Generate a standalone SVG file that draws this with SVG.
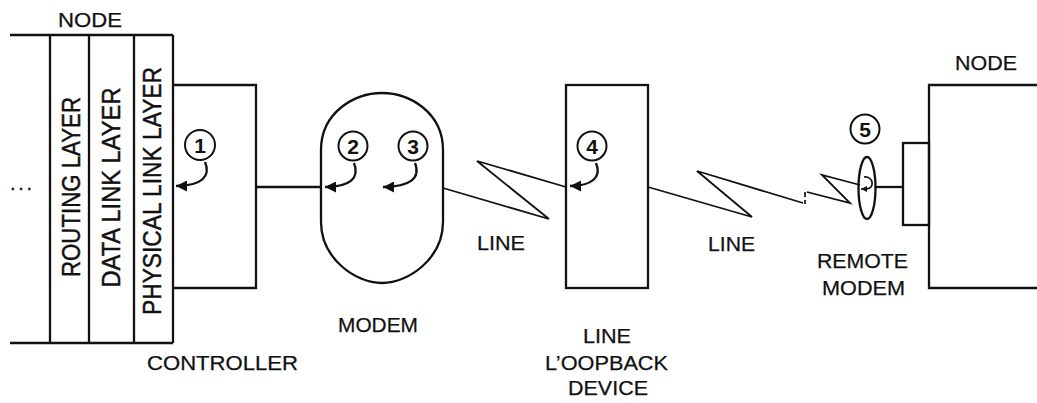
<svg xmlns="http://www.w3.org/2000/svg" width="1037" height="403" viewBox="0 0 1037 403">
<style>
  .ln{fill:none;stroke:#111;stroke-width:2.3;stroke-linejoin:miter}
  .zz{fill:none;stroke:#111;stroke-width:1.8;stroke-linejoin:miter}
  .th{fill:none;stroke:#111;stroke-width:1.7}
  .t{font-family:"Liberation Sans",Arial,sans-serif;fill:#111;stroke:#111;stroke-width:0.25;font-size:20px}
  .r{font-family:"Liberation Sans",Arial,sans-serif;fill:#111;stroke:#111;stroke-width:0.45;font-size:26px}
  .d{font-family:"Liberation Sans",Arial,sans-serif;fill:#111;font-size:21px;font-weight:bold;text-anchor:middle}
  .c{fill:#fff;stroke:#111;stroke-width:2}
</style>
<defs>
  <marker id="ah" viewBox="0 0 10 10" refX="10" refY="5" markerUnits="userSpaceOnUse" markerWidth="18" markerHeight="11" orient="auto">
    <path d="M0,0 L10,5 L0,10 z" fill="#111"/>
  </marker>
  <marker id="ahs" viewBox="0 0 10 10" refX="10" refY="5" markerUnits="userSpaceOnUse" markerWidth="7" markerHeight="6" orient="auto">
    <path d="M0,0 L10,5 L0,10 z" fill="#111"/>
  </marker>
</defs>

<g id="node-left">
  <line class="ln" x1="10" y1="35" x2="173" y2="35"/>
  <line class="ln" x1="10" y1="343" x2="173" y2="343"/>
  <line class="ln" x1="50" y1="35" x2="50" y2="343"/>
  <line class="ln" x1="89" y1="35" x2="89" y2="343"/>
  <line class="ln" x1="134" y1="35" x2="134" y2="343"/>
  <line class="ln" x1="173" y1="35" x2="173" y2="343"/>
  <text class="t" x="58" y="27" textLength="64" lengthAdjust="spacingAndGlyphs">NODE</text>
  <text class="t" x="10" y="190" textLength="22" lengthAdjust="spacing">. . .</text>
  <text class="r" transform="translate(80,187) rotate(-90)" text-anchor="middle" textLength="180" lengthAdjust="spacingAndGlyphs">ROUTING LAYER</text>
  <text class="r" transform="translate(120,187.5) rotate(-90)" text-anchor="middle" textLength="200" lengthAdjust="spacingAndGlyphs">DATA LINK LAYER</text>
  <text class="r" transform="translate(161,191) rotate(-90)" text-anchor="middle" textLength="248" lengthAdjust="spacingAndGlyphs">PHYSICAL LINK LAYER</text>
</g>

<g id="controller">
  <polyline class="ln" points="173,85 256,85 256,288 173,288"/>
  <text class="t" x="147" y="370" textLength="151" lengthAdjust="spacingAndGlyphs">CONTROLLER</text>
</g>

<g id="modem">
  <path class="ln" d="M321,150 C321,112 355,93 382,93 C409,93 443,112 443,150 L443,222 C443,258 409,283 382,283 C355,283 321,258 321,222 Z"/>
  <text class="t" x="338" y="332" textLength="80" lengthAdjust="spacingAndGlyphs">MODEM</text>
</g>

<g id="loopback">
  <rect class="ln" x="566" y="85" width="82" height="203"/>
  <text class="t" x="583" y="343" textLength="48" lengthAdjust="spacingAndGlyphs">LINE</text>
  <text class="t" x="545" y="370" textLength="123" lengthAdjust="spacingAndGlyphs">L’OOPBACK</text>
  <text class="t" x="568" y="395" textLength="80" lengthAdjust="spacingAndGlyphs">DEVICE</text>
</g>

<g id="remote-modem">
  <ellipse class="ln" cx="867" cy="188" rx="8.5" ry="31"/>
  <text class="t" x="817" y="268" textLength="91" lengthAdjust="spacingAndGlyphs">REMOTE</text>
  <text class="t" x="822" y="295" textLength="83" lengthAdjust="spacingAndGlyphs">MODEM</text>
</g>

<g id="node-right">
  <rect class="ln" x="903" y="143" width="26" height="82"/>
  <polyline class="ln" points="1037,85 929,85 929,288 1037,288"/>
  <text class="t" x="955" y="70" textLength="62" lengthAdjust="spacingAndGlyphs">NODE</text>
</g>

<g id="connectors">
  <line class="ln" x1="256" y1="187" x2="321" y2="187"/>
  <polyline class="zz" points="443,188 549,219 477,161 566,187"/>
  <text class="t" x="477" y="250" textLength="48" lengthAdjust="spacingAndGlyphs">LINE</text>
  <polyline class="zz" points="648,187 752,217 697,171 803,203"/>
  <path class="th" d="M805,192 L805,197 M805,200 L805,204"/>
  <polyline class="zz" points="807,192 850,203 822,175 860,185"/>
  <text class="t" x="708" y="251" textLength="47" lengthAdjust="spacingAndGlyphs">LINE</text>
  <line class="ln" x1="876" y1="187" x2="903" y2="187"/>
</g>

<g id="markers">
  <circle class="c" cx="200" cy="145" r="15"/>
  <text class="d" x="200" y="152.5">1</text>
  <path class="ln" d="M205,162 C211,176 202,186 176,186" marker-end="url(#ah)"/>

  <circle class="c" cx="353" cy="146" r="14.5"/>
  <text class="d" x="353" y="153.5">2</text>
  <path class="ln" d="M354,163 C360,178 350,187 325,187" marker-end="url(#ah)"/>

  <circle class="c" cx="413" cy="146" r="14.5"/>
  <text class="d" x="413" y="153.5">3</text>
  <path class="ln" d="M415,163 C421,178 410,187 383,187" marker-end="url(#ah)"/>

  <circle class="c" cx="592" cy="146" r="14.5"/>
  <text class="d" x="592" y="153.5">4</text>
  <path class="ln" d="M596,163 C602,177 592,186 570,186" marker-end="url(#ah)"/>

  <circle class="c" cx="865" cy="129" r="14.5"/>
  <text class="d" x="865" y="136.5">5</text>
  <path class="th" d="M864,177 C874,176 875,189 866,189 L861,189" marker-end="url(#ahs)"/>
</g>
</svg>
